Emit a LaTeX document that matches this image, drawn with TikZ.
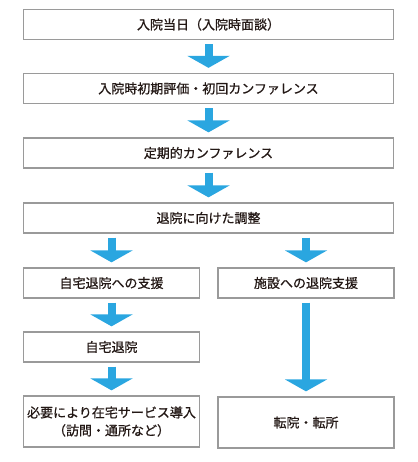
\documentclass[tikz,border=0pt]{standalone}
\usepackage{fontspec}
\setmainfont{Noto Sans CJK JP}[FakeBold=0.8]
\usetikzlibrary{arrows.meta}
\definecolor{flowblue}{HTML}{2AA6E0}
\definecolor{boxgray}{HTML}{9A9A9A}
\definecolor{textdark}{HTML}{231815}
\begin{document}
\begin{tikzpicture}[x=1pt,y=-1pt,
    stage/.style={draw=boxgray,line width=1.3pt,fill=white,text=textdark,
      font=\fontsize{13pt}{18pt}\selectfont,align=center,
      inner sep=0pt,minimum height=30pt},
    wide/.style={stage,minimum width=370pt},
    half/.style={stage,minimum width=176pt},
    flow/.style={draw=flowblue,line width=8pt,
      -{Triangle[width=42pt,length=12pt]},shorten <=4pt,shorten >=5pt}]
        \useasboundingbox (0,0) rectangle (417,462);
        % main line
        \node[wide] (admit) at (208.5,24.5) {入院当日（入院時面談）};
        \node[wide] (assess) at (208.5,88.5) {入院時初期評価・初回カンファレンス};
        \node[wide] (conf) at (208.5,153) {定期的カンファレンス};
        \node[wide] (adjust) at (208.5,218) {退院に向けた調整};
        % left branch
        \node[half] (homesup) at (111.5,283) {自宅退院への支援};
        \node[half] (home) at (111.5,347) {自宅退院};
        \node[half,minimum height=51pt] (service) at (111.5,421.5)
          {必要により在宅サービス導入\\（訪問・通所など）};
        % right branch
        \node[half] (facsup) at (306,283) {施設への退院支援};
        \node[half,minimum height=51pt] (transfer) at (306,422.5) {転院・転所};
        % arrows
        \draw[flow] (admit) -- (assess);
        \draw[flow] (assess) -- (conf);
        \draw[flow] (conf) -- (adjust);
        \draw[flow] (adjust.south -| homesup) -- (homesup);
        \draw[flow] (adjust.south -| facsup) -- (facsup);
        \draw[flow] (homesup) -- (home);
        \draw[flow] (home) -- (service);
        \draw[flow] (facsup) -- (transfer);
      \end{tikzpicture}
\end{document}
